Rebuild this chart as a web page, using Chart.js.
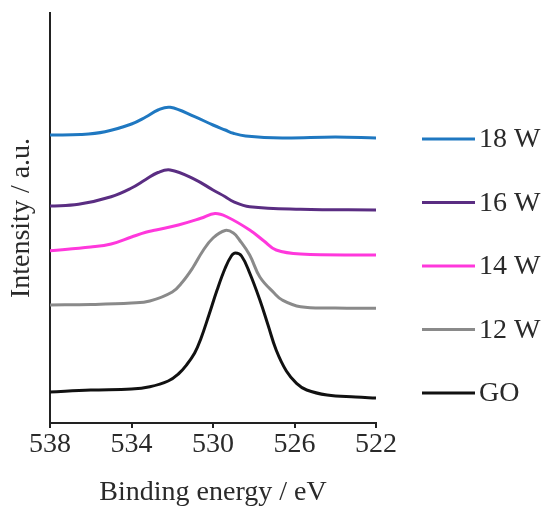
<!DOCTYPE html>
<html>
<head>
<meta charset="utf-8">
<script src="https://cdn.jsdelivr.net/npm/chart.js@4/dist/chart.umd.min.js"></script>
<style>
  html, body { margin: 0; padding: 0; background: #fff; }
  #grafica { display: block; }
</style>
</head>
<body>
<canvas id="grafica" width="547" height="514"></canvas>
<script>
// Energías de enlace (eV) y intensidades (u.a.)
const E_18W = [538, 536.5, 535.3, 534, 533.3, 532.7, 532.1, 530.9, 530, 529.4, 529, 528.4, 526.6, 524, 522];
const I_18W = [288, 288.5, 291.3, 299, 306, 313, 315.7, 306.3, 298, 293, 289.7, 287, 285, 286, 285];

const E_16W = [538, 536.6, 535, 534, 533.3, 532.7, 532.1, 530.9, 530, 529.4, 529, 528.2, 525.7, 522];
const I_16W = [217, 218.7, 226.3, 235, 243.5, 250.5, 253, 243.7, 233, 226.3, 221.3, 216.3, 213.7, 213];

const E_14W = [538, 536, 535, 534, 533.3, 532.8, 531.7, 530.6, 529.9, 529.3, 528.2, 527.5, 526.9, 525.7, 522];
const I_14W = [172.3, 176, 179, 186, 190.7, 193, 198, 204.7, 209.5, 206, 193, 182, 173, 169, 168];

const E_12W = [538, 536, 534, 533.1, 532, 531.5, 531, 530.5, 530, 529.4, 529, 528.7, 528.2, 527.7, 527, 526.6, 525.7, 524, 522];
const I_12W = [118, 118.5, 120, 122, 131, 141, 155, 172, 185, 192.5, 190, 183, 168, 146, 130, 123, 116.3, 115, 114.7];

const E_GO = [538, 536, 534, 533.1, 532.2, 531.7, 531.3, 530.9, 530.6, 530.2, 529.8, 529.4, 529.1, 528.9, 528.6, 528.2, 527.7, 527.3, 526.9, 526.4, 525.9, 525.4, 524.4, 523, 522];
const I_GO = [31, 33, 34, 36.3, 42, 49, 58, 70, 84, 108, 133, 155, 167, 170, 167, 150, 123, 98, 73, 52, 39.7, 33, 28, 26, 25];

const ETIQUETAS = ["18 W", "16 W", "14 W", "12 W", "GO"];
const COLORES = ["#1f78c1", "#5a2d82", "#ff38dc", "#8a8a8a", "#111111"];
const TICKS_X = [538, 534, 530, 526, 522];

const FUENTE = "'Liberation Serif', 'Times New Roman', serif";
const COLOR_TEXTO = "#2a2a2a";

function puntos(energias, intensidades) {
  return energias.map((e, i) => ({ x: e, y: intensidades[i] }));
}

const series = [
  puntos(E_18W, I_18W),
  puntos(E_16W, I_16W),
  puntos(E_14W, I_14W),
  puntos(E_12W, I_12W),
  puntos(E_GO, I_GO),
];

// Leyenda dibujada a la derecha del área del gráfico
const leyendaDerecha = {
  id: "leyendaDerecha",
  afterDraw(chart) {
    const ctx = chart.ctx;
    ctx.save();
    ctx.font = "28px " + FUENTE;
    ctx.textBaseline = "middle";
    ctx.fillStyle = COLOR_TEXTO;
    chart.data.datasets.forEach((ds, i) => {
      const y = 139 + i * 63.5;
      ctx.strokeStyle = ds.borderColor;
      ctx.lineWidth = 3;
      ctx.beginPath();
      ctx.moveTo(422, y);
      ctx.lineTo(475, y);
      ctx.stroke();
      ctx.fillText(ds.label, 479, y + 1);
    });
    ctx.restore();
  },
};

new Chart(document.getElementById("grafica"), {
  type: "line",
  data: {
    datasets: series.map((s, i) => ({
      label: ETIQUETAS[i],
      data: s,
      borderColor: COLORES[i],
      backgroundColor: COLORES[i],
      borderWidth: 3,
      pointRadius: 0,
      tension: 0.4,
      fill: false,
    })),
  },
  options: {
    responsive: false,
    animation: false,
    layout: { padding: { top: 13, right: 171, left: 0, bottom: 0 } },
    plugins: {
      legend: { display: false },
      tooltip: { enabled: false },
    },
    scales: {
      x: {
        type: "linear",
        reverse: true,
        min: 522,
        max: 538,
        afterBuildTicks: (scale) => {
          scale.ticks = TICKS_X.map((v) => ({ value: v }));
        },
        afterFit: (scale) => { scale.height = 91; },
        grid: {
          display: true,
          drawOnChartArea: false,
          drawTicks: true,
          tickLength: 5,
          color: "#222",
          lineWidth: 2,
        },
        border: { display: true, color: "#222", width: 2 },
        ticks: {
          color: COLOR_TEXTO,
          padding: 0,
          font: { family: FUENTE, size: 28 },
          maxRotation: 0,
        },
        title: {
          display: true,
          text: "Binding energy / eV",
          color: COLOR_TEXTO,
          font: { family: FUENTE, size: 28 },
          padding: { top: 0, bottom: 5 },
        },
      },
      y: {
        min: 0,
        max: 410,
        afterFit: (scale) => { scale.width = 50; },
        grid: { display: false },
        border: { display: true, color: "#222", width: 2 },
        ticks: { display: false },
        title: {
          display: true,
          text: "Intensity / a.u.",
          color: COLOR_TEXTO,
          font: { family: FUENTE, size: 28 },
          padding: { top: 5, bottom: 0 },
        },
      },
    },
  },
  plugins: [leyendaDerecha],
});
</script>
</body>
</html>
